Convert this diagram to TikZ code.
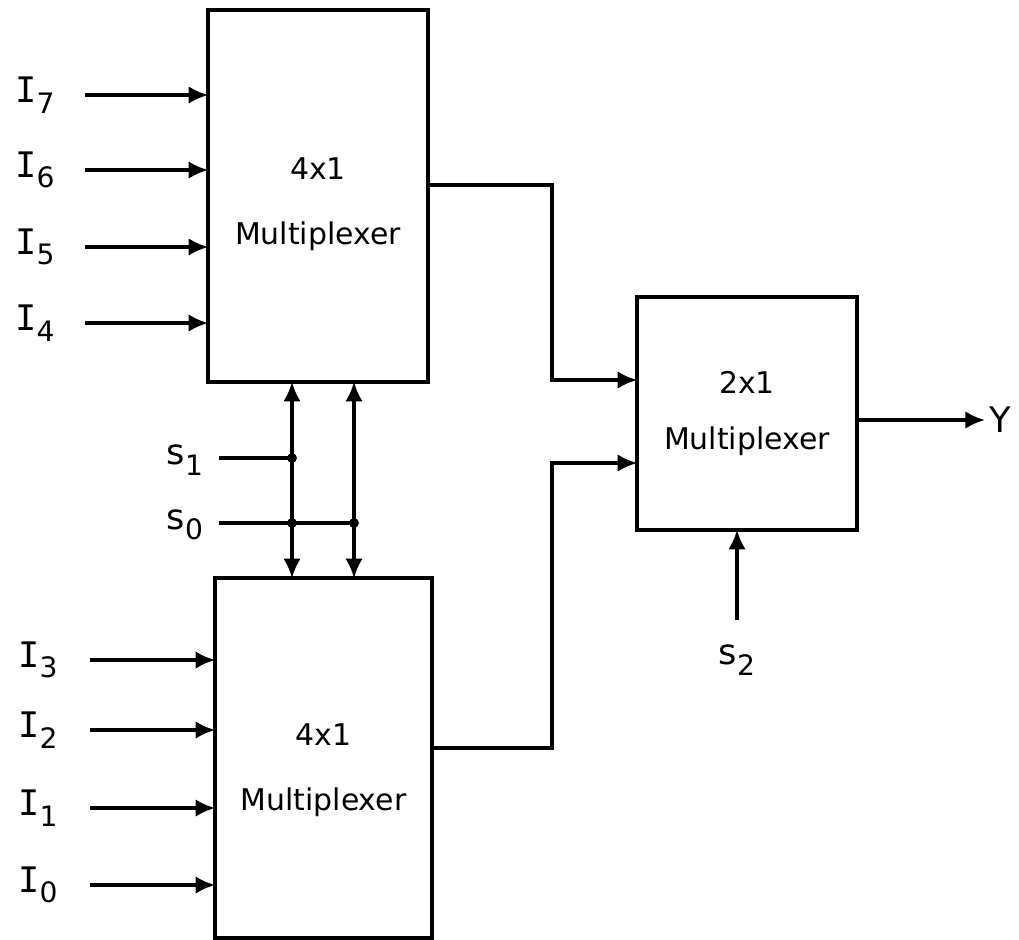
\documentclass[tikz,border=0pt]{standalone}
\usepackage{fontspec}
\setmainfont{DejaVu Sans}
\newfontfamily\ifont{DejaVu Sans Mono}
\usetikzlibrary{arrows.meta,positioning,calc}

\newcommand{\sub}[1]{\raisebox{-0.55ex}{\fontsize{8}{8}\selectfont #1}}

\begin{document}
\begin{tikzpicture}[
    x=0.01cm, y=-0.01cm,
    mux/.style={rectangle, draw=black, line width=1pt},
    muxtext/.style={align=center, font=\fontsize{8.5}{18.5}\selectfont},
    sig/.style={-{Latex[length=5.6pt,width=5pt]}, line width=1pt, shorten >=-0.6pt},
    both/.style={{Latex[length=5.6pt,width=5pt]}-{Latex[length=5.6pt,width=5pt]}, line width=1pt, shorten >=-0.6pt, shorten <=-0.6pt},
    wire/.style={line width=1pt},
    lbl/.style={font=\fontsize{10}{12}\selectfont, inner sep=1pt}
]
\useasboundingbox (0,0) rectangle (1019,939);

% Multiplexers
\node[mux, minimum width=2.2cm, minimum height=3.72cm] (top) at (318,196) {};
\node[mux, minimum width=2.17cm, minimum height=3.6cm] (bot) at (323.5,758) {};
\node[mux, minimum width=2.2cm, minimum height=2.33cm] (mux2) at (747,413.5) {};
\node[muxtext] (toptext) at ([yshift=-0.08cm]top.center) {4x1\\Multiplexer};
\node[muxtext] (bottext) at ([yshift=-0.12cm]bot.center) {4x1\\Multiplexer};
\node[muxtext, font=\fontsize{8.5}{16}\selectfont] (mux2text) at (mux2.center) {2x1\\Multiplexer};

% Inputs of the upper multiplexer
\foreach \i/\y in {7/95, 6/170, 5/247, 4/323} {
    \node[lbl] (in\i) at (35,\y) {{\ifont I}\sub{\i}};
    \draw[sig] (85,\y) -- (top.west |- 0,\y);
}

% Inputs of the lower multiplexer
\foreach \i/\y in {3/660, 2/730, 1/808, 0/885} {
    \node[lbl] (in\i) at (38,\y) {{\ifont I}\sub{\i}};
    \draw[sig] (90,\y) -- (bot.west |- 0,\y);
}

% Select lines s1 and s0
\coordinate (sa) at (292,458);
\coordinate (sb) at (354,523);
\node[lbl] (s1) at (185,460) {s\sub{1}};
\node[lbl] (s0) at (185,525) {s\sub{0}};
\draw[both] (top.south -| sa) -- (bot.north -| sa);
\draw[both] (top.south -| sb) -- (bot.north -| sb);
\draw[wire] ([xshift=0.12cm]s1.east |- sa) -- (sa);
\draw[wire] ([xshift=0.12cm]s0.east |- sb) -- (sb);
\fill (sa) circle (1.4pt);
\fill (sa |- sb) circle (1.4pt);
\fill (sb) circle (1.4pt);

% Outputs into the 2x1 multiplexer
\coordinate (ja) at (552,380);
\coordinate (jb) at (552,463);
\draw[sig] (top.east |- 0,185) -- (ja |- 0,185) -- (ja) -- (ja -| mux2.west);
\draw[sig] (bot.east |- 0,748) -- (jb |- 0,748) -- (jb) -- (jb -| mux2.west);

% Select s2 and output Y
\node[lbl] (s2) at (737,660) {s\sub{2}};
\draw[sig] (737,620) -- (mux2.south -| 737,0);
\node[lbl] (y) at (1000,420) {Y};
\draw[sig, shorten >=0pt] (mux2.east |- 0,420) -- (y.west);

\end{tikzpicture}
\end{document}
